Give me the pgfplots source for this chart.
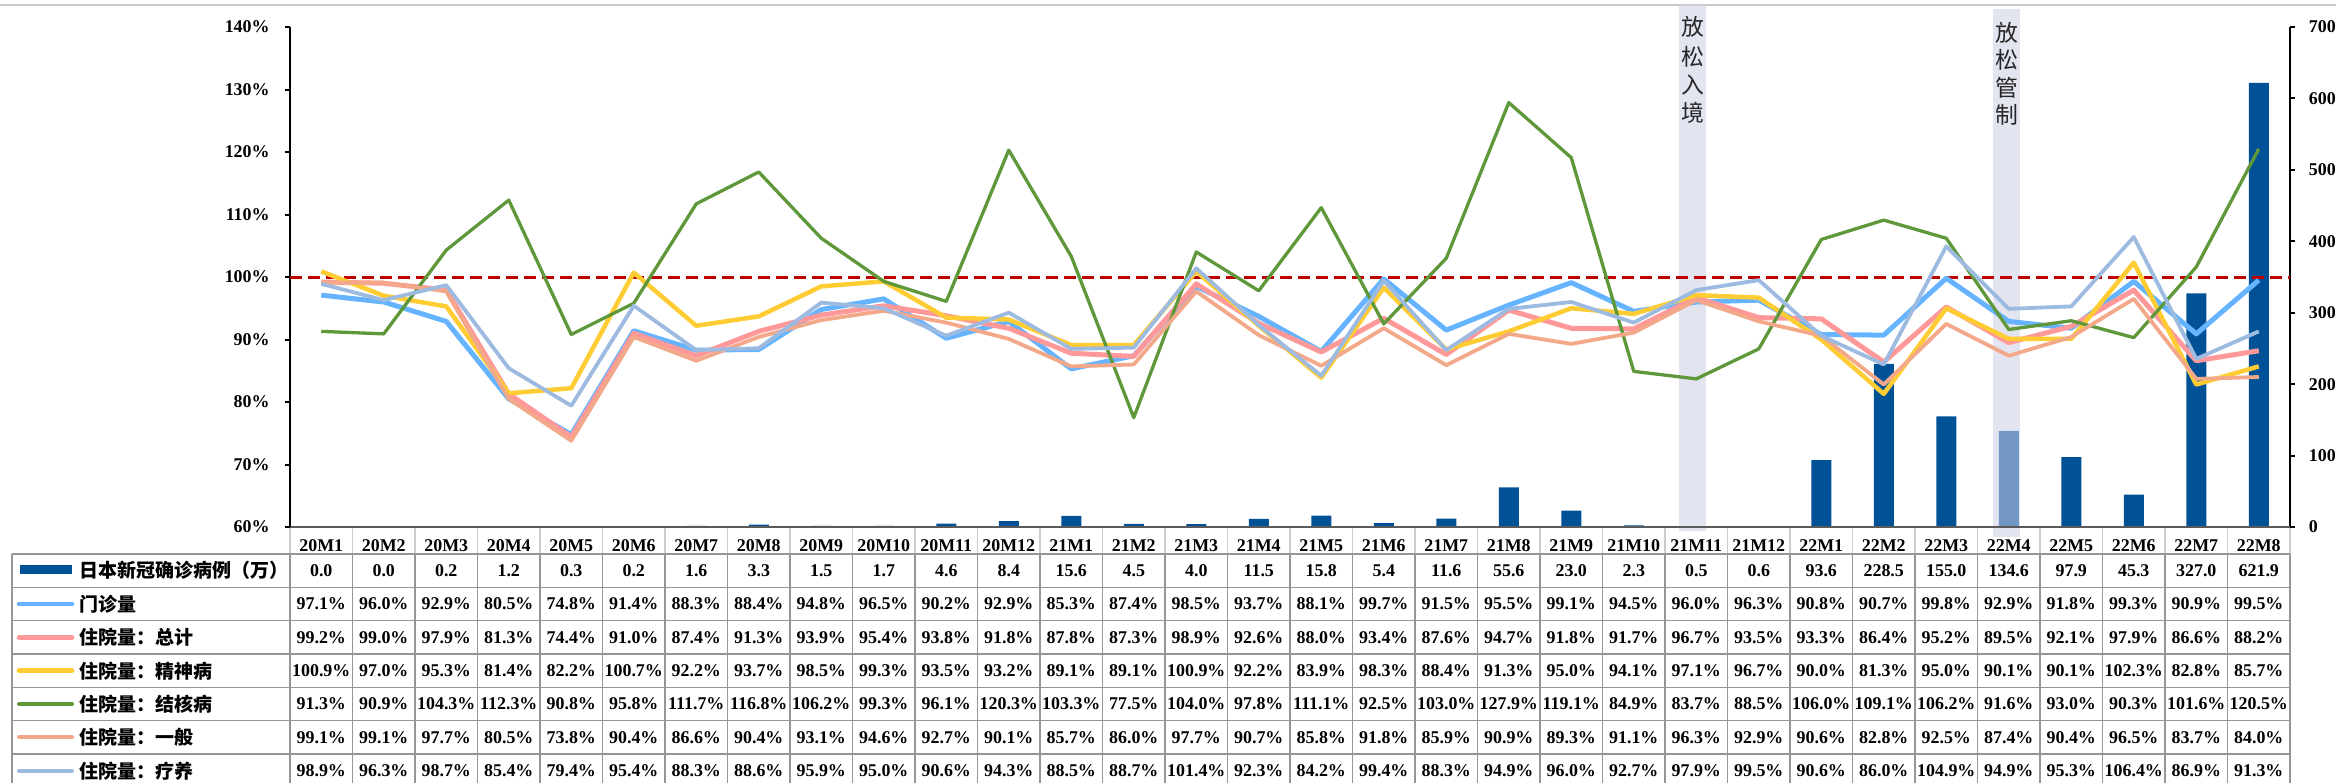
\documentclass[border=0pt]{standalone}
\usepackage{pgfplots}
\pgfplotsset{compat=1.18}
\usepackage{pgfplotstable}
\usepackage{fontspec}
\setmainfont{Liberation Serif}
\newfontfamily\cjk{Noto Sans CJK SC}
\definecolor{barblue}{RGB}{0,81,150}
\definecolor{cBlue}{RGB}{102,180,255}
\definecolor{cPink}{RGB}{255,153,153}
\definecolor{cYellow}{RGB}{255,204,51}
\definecolor{cGreen}{RGB}{95,152,58}
\definecolor{cSalmon}{RGB}{244,168,138}
\definecolor{cSteel}{RGB}{157,187,224}
\definecolor{band}{RGB}{204,207,229}
\definecolor{dashred}{RGB}{192,0,0}
\definecolor{gridgray}{RGB}{150,150,150}
\definecolor{hdrgray}{RGB}{205,205,205}
\definecolor{topgray}{RGB}{200,200,200}
\definecolor{axgray}{RGB}{90,90,90}
\newcommand\tf{\fontsize{5.1pt}{6pt}\selectfont\bfseries}
\newcommand\cf{\cjk\fontsize{5.4pt}{6pt}\selectfont\bfseries}
\newcommand\bandfont{\cjk\fontsize{6.5pt}{7pt}\selectfont}

\pgfplotstableread{
x cat cases mz zj jsb jhb yb ly
0 20M1 0.0 97.1 99.2 100.9 91.3 99.1 98.9
1 20M2 0.0 96.0 99.0 97.0 90.9 99.1 96.3
2 20M3 0.2 92.9 97.9 95.3 104.3 97.7 98.7
3 20M4 1.2 80.5 81.3 81.4 112.3 80.5 85.4
4 20M5 0.3 74.8 74.4 82.2 90.8 73.8 79.4
5 20M6 0.2 91.4 91.0 100.7 95.8 90.4 95.4
6 20M7 1.6 88.3 87.4 92.2 111.7 86.6 88.3
7 20M8 3.3 88.4 91.3 93.7 116.8 90.4 88.6
8 20M9 1.5 94.8 93.9 98.5 106.2 93.1 95.9
9 20M10 1.7 96.5 95.4 99.3 99.3 94.6 95.0
10 20M11 4.6 90.2 93.8 93.5 96.1 92.7 90.6
11 20M12 8.4 92.9 91.8 93.2 120.3 90.1 94.3
12 21M1 15.6 85.3 87.8 89.1 103.3 85.7 88.5
13 21M2 4.5 87.4 87.3 89.1 77.5 86.0 88.7
14 21M3 4.0 98.5 98.9 100.9 104.0 97.7 101.4
15 21M4 11.5 93.7 92.6 92.2 97.8 90.7 92.3
16 21M5 15.8 88.1 88.0 83.9 111.1 85.8 84.2
17 21M6 5.4 99.7 93.4 98.3 92.5 91.8 99.4
18 21M7 11.6 91.5 87.6 88.4 103.0 85.9 88.3
19 21M8 55.6 95.5 94.7 91.3 127.9 90.9 94.9
20 21M9 23.0 99.1 91.8 95.0 119.1 89.3 96.0
21 21M10 2.3 94.5 91.7 94.1 84.9 91.1 92.7
22 21M11 0.5 96.0 96.7 97.1 83.7 96.3 97.9
23 21M12 0.6 96.3 93.5 96.7 88.5 92.9 99.5
24 22M1 93.6 90.8 93.3 90.0 106.0 90.6 90.6
25 22M2 228.5 90.7 86.4 81.3 109.1 82.8 86.0
26 22M3 155.0 99.8 95.2 95.0 106.2 92.5 104.9
27 22M4 134.6 92.9 89.5 90.1 91.6 87.4 94.9
28 22M5 97.9 91.8 92.1 90.1 93.0 90.4 95.3
29 22M6 45.3 99.3 97.9 102.3 90.3 96.5 106.4
30 22M7 327.0 90.9 86.6 82.8 101.6 83.7 86.9
31 22M8 621.9 99.5 88.2 85.7 120.5 84.0 91.3
}\datatable

\pgfplotsset{
  tabrow/.style={draw=none, mark=none, point meta=explicit,
    every node near coord/.append style={font=\tf, anchor=center, inner sep=0pt}},
  pctrow/.style={tabrow, nodes near coords={\pgfmathprintnumber[fixed,fixed zerofill,precision=1,assume math mode=true]{\pgfplotspointmeta}\%}},
}

\begin{document}
\begin{tikzpicture}
\useasboundingbox (0,0) rectangle (233.6mm,78.2mm);
\draw[topgray, line width=0.2mm] (0,77.65mm) -- (233.6mm,77.65mm);

% right axis: cases bars and bands
\begin{axis}[
  at={(29mm,25.5mm)}, anchor=south west, scale only axis,
  width=200mm, height=50mm,
  xmin=-0.5, xmax=31.5, ymin=0, ymax=700,
  axis x line=none, axis y line*=right,
  y axis line style={-, line width=0.2mm, black},
  ytick={0,100,...,700},
  yticklabel style={font=\tf, xshift=0.15mm},
  /pgf/number format/assume math mode=true,
  tick align=outside, major tick length=0.5mm,
  ytick style={line width=0.2mm, black},
  clip=false,
]
\addplot[ybar, bar width=2mm, fill=barblue, draw=none] table[x=x, y=cases] {\datatable};
\addplot[fill=band, fill opacity=0.56, draw=none] coordinates {(21.724,-6) (21.724,732) (22.156,732) (22.156,-6)};
\addplot[fill=band, fill opacity=0.56, draw=none] coordinates {(26.748,-14) (26.748,725) (27.18,725) (27.18,-14)};
\node[font=\bandfont, text=black!85] at (axis cs:21.94,700) {放};
\node[font=\bandfont, text=black!85] at (axis cs:21.94,658) {松};
\node[font=\bandfont, text=black!85] at (axis cs:21.94,618.8) {入};
\node[font=\bandfont, text=black!85] at (axis cs:21.94,579.6) {境};
\node[font=\bandfont, text=black!85] at (axis cs:26.97,691.6) {放};
\node[font=\bandfont, text=black!85] at (axis cs:26.97,653.8) {松};
\node[font=\bandfont, text=black!85] at (axis cs:26.97,614.6) {管};
\node[font=\bandfont, text=black!85] at (axis cs:26.97,576.8) {制};
\end{axis}

% left axis: lines
\begin{axis}[
  at={(29mm,25.5mm)}, anchor=south west, scale only axis,
  width=200mm, height=50mm,
  xmin=-0.5, xmax=31.5, ymin=60, ymax=140,
  axis x line*=bottom, axis y line*=left,
  x axis line style={-, line width=0.17mm, axgray},
  y axis line style={-, line width=0.2mm, black},
  ytick={60,70,...,140},
  yticklabels={60\%,70\%,80\%,90\%,100\%,110\%,120\%,130\%,140\%},
  yticklabel style={font=\tf, xshift=-0.3mm},
  tick align=outside, major tick length=0.5mm,
  ytick style={line width=0.2mm, black},
  xtick={0,...,31},
  xticklabels from table={\datatable}{cat},
  x tick style={draw=none},
  xticklabel style={font=\tf, anchor=center, yshift=-1.4mm},
  clip=false,
]
\addplot[draw=dashred, line width=0.3mm, dash pattern=on 1.2mm off 0.6mm] coordinates {(-0.5,100) (31.5,100)};
\addplot[cBlue, line width=0.5mm, line join=round] table[x=x, y=mz] {\datatable};
\addplot[cPink, line width=0.5mm, line join=round] table[x=x, y=zj] {\datatable};
\addplot[cYellow, line width=0.45mm, line join=round] table[x=x, y=jsb] {\datatable};
\addplot[cGreen, line width=0.33mm, line join=round] table[x=x, y=jhb] {\datatable};
\addplot[cSalmon, line width=0.38mm, line join=round] table[x=x, y=yb] {\datatable};
\addplot[cSteel, line width=0.38mm, line join=round] table[x=x, y=ly] {\datatable};
\end{axis}

% table grid
\begin{scope}[x=0.1mm, y=-0.1mm, yshift=78.2mm]
\foreach \k in {0,...,32} {
  \draw[hdrgray, line width=0.13mm] ({290+62.5*\k},528) -- ({290+62.5*\k},554);
  \draw[gridgray, line width=0.13mm] ({290+62.5*\k},554) -- ({290+62.5*\k},795);
}
\draw[gridgray, line width=0.13mm] (12,554) -- (12,795);
\foreach \r in {0,...,6} {
  \draw[gridgray, line width=0.13mm] (12,{554+33.333*\r}) -- (2290,{554+33.333*\r});
}
\fill[barblue] (20,565) rectangle (72,574);
\draw[cBlue, line width=0.47mm, line cap=round] (19,604) -- (72,604);
\draw[cPink, line width=0.47mm, line cap=round] (19,637.3) -- (72,637.3);
\draw[cYellow, line width=0.47mm, line cap=round] (19,670.7) -- (72,670.7);
\draw[cGreen, line width=0.4mm, line cap=round] (19,704) -- (72,704);
\draw[cSalmon, line width=0.4mm, line cap=round] (19,737.3) -- (72,737.3);
\draw[cSteel, line width=0.4mm, line cap=round] (19,770.7) -- (72,770.7);
\node[anchor=west, font=\cf, inner sep=0pt] at (79,570.7) {日本新冠确诊病例（万）};
\node[anchor=west, font=\cf, inner sep=0pt] at (79,604) {门诊量};
\node[anchor=west, font=\cf, inner sep=0pt] at (79,637.3) {住院量：总计};
\node[anchor=west, font=\cf, inner sep=0pt] at (79,670.7) {住院量：精神病};
\node[anchor=west, font=\cf, inner sep=0pt] at (79,704) {住院量：结核病};
\node[anchor=west, font=\cf, inner sep=0pt] at (79,737.3) {住院量：一般};
\node[anchor=west, font=\cf, inner sep=0pt] at (79,770.7) {住院量：疗养};
\end{scope}

% table values
\begin{axis}[
  at={(29mm,0mm)}, anchor=south west, scale only axis,
  width=200mm, height=25.5mm,
  xmin=-0.5, xmax=31.5, ymin=527, ymax=782, y dir=reverse,
  hide axis, clip=false,
]
\addplot[tabrow, nodes near coords={\pgfmathprintnumber[fixed,fixed zerofill,precision=1,assume math mode=true]{\pgfplotspointmeta}}] table[x=x, y expr=570.7, meta=cases] {\datatable};
\addplot[pctrow] table[x=x, y expr=604, meta=mz] {\datatable};
\addplot[pctrow] table[x=x, y expr=637.3, meta=zj] {\datatable};
\addplot[pctrow] table[x=x, y expr=670.7, meta=jsb] {\datatable};
\addplot[pctrow] table[x=x, y expr=704, meta=jhb] {\datatable};
\addplot[pctrow] table[x=x, y expr=737.3, meta=yb] {\datatable};
\addplot[pctrow] table[x=x, y expr=770.7, meta=ly] {\datatable};
\end{axis}
\end{tikzpicture}
\end{document}
